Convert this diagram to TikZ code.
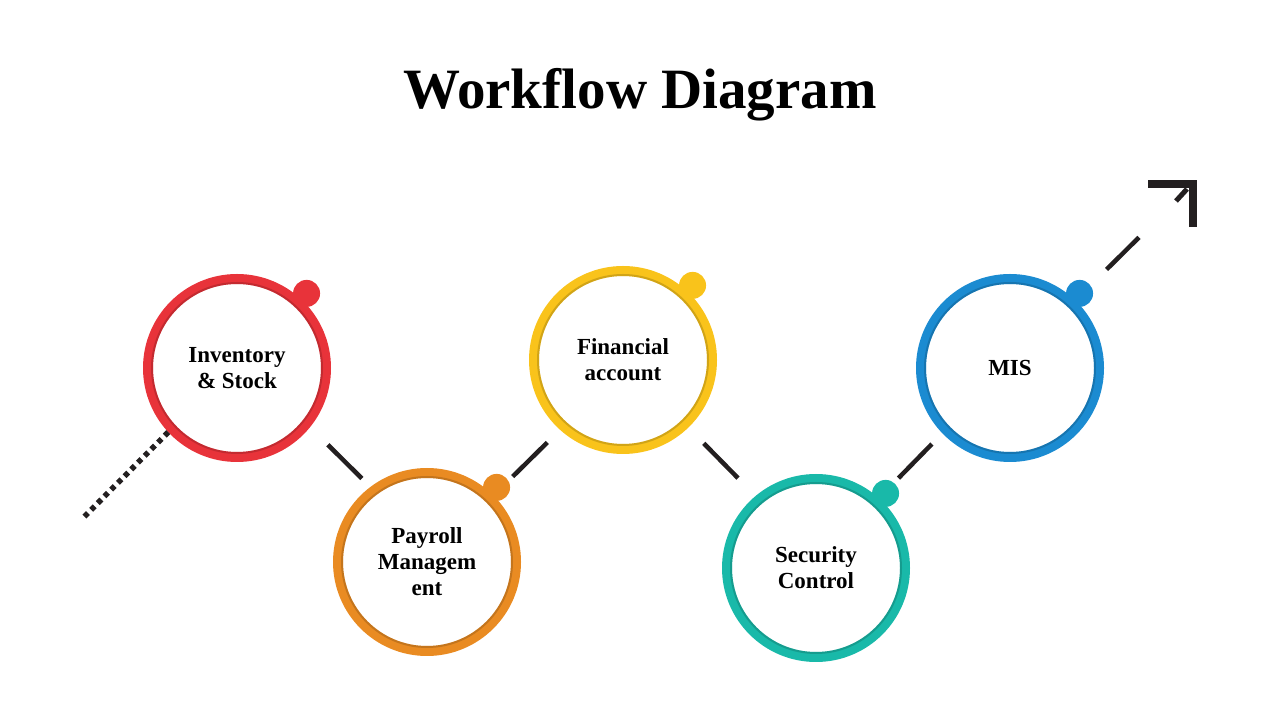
\documentclass[tikz,border=0pt]{standalone}
\usepackage{fontspec}
\setmainfont{Liberation Serif}
\usetikzlibrary{calc}
\definecolor{cred}{HTML}{E8333A}
\definecolor{corange}{HTML}{E98B22}
\definecolor{cyellow}{HTML}{F9C31B}
\definecolor{cteal}{HTML}{19B9A9}
\definecolor{cblue}{HTML}{1B8BD1}
\definecolor{ink}{HTML}{231F20}
\begin{document}
\begin{tikzpicture}[x=1pt,y=1pt,
  stage/.style={circle, draw=#1, line width=10pt, minimum size=178pt, inner sep=0pt,
    align=center, font=\bfseries\fontsize{23}{26}\selectfont, fill=white, text=black},
  link/.style={draw=ink, line width=4.5pt},
  dotlink/.style={draw=ink, line width=5.5pt, dash pattern=on 5pt off 4.5pt},
  arrowbar/.style={draw=ink, line width=8pt},
]
\useasboundingbox (0,0) rectangle (1280,720);
\node[font=\bfseries\fontsize{57}{60}\selectfont] (title) at (640,625) {Workflow Diagram};

\node[stage=cred]    (c1) at (237,352) {Inventory\\\& Stock};
\node[stage=corange] (c2) at (427,158) {Payroll\\Managem\\ent};
\node[stage=cyellow] (c3) at (623,360) {Financial\\account};
\node[stage=cteal]   (c4) at (816,152) {Security\\Control};
\node[stage=cblue]   (c5) at (1010,352) {MIS};

\foreach \n/\c in {c1/cred, c2/corange, c3/cyellow, c4/cteal, c5/cblue} {
  \draw[\c!55!black, opacity=.35, line width=2pt] (\n) circle (85);
  \fill[\c] ($(\n)+(47:102)$) circle (13.5);
}

\coordinate (dstart) at (83,202);
\coordinate (tip) at (1193,536);

\draw[dotlink] (c1.-137) -- (dstart);
\draw[link, shorten <=25pt, shorten >=12pt] (c1.-39) -- (c2.127);
\draw[link, shorten <=27pt, shorten >=18pt] (c2.45) -- (c3.-132);
\draw[link, shorten <=22pt, shorten >=25pt] (c3.-46) -- (c4.130);
\draw[link, shorten <=28pt, shorten >=15pt] (c4.48) -- (c5.-136);
\draw[link, shorten <=44pt, shorten >=76pt] (c5.46) -- (tip);

\draw[arrowbar] (1148,536) -- (tip) -- (1193,493);
\draw[link, line width=5pt] (1176,519) -- (1187,531);
\end{tikzpicture}
\end{document}
